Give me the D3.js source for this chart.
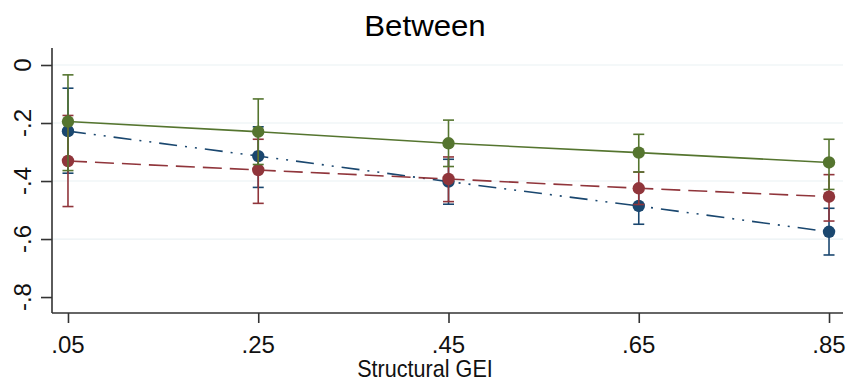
<!DOCTYPE html>
<html><head><meta charset="utf-8">
<script src="https://cdn.jsdelivr.net/npm/d3@7"></script>
<style>
html,body{margin:0;padding:0;background:#fff;}
svg{display:block;font-family:Arial,"Liberation Sans",sans-serif;}
</style></head>
<body>
<svg id="chart" width="850" height="384"></svg>
<script>
// ---- data ----
const xValues = [0.05, 0.25, 0.45, 0.65, 0.85];
const xTickLabels = [".05", ".25", ".45", ".65", ".85"];
const yTicks = [0, -0.2, -0.4, -0.6, -0.8];
const yTickLabels = ["0", "-.2", "-.4", "-.6", "-.8"];
const gridTicks = [0, -0.2, -0.4, -0.6];

const blueEst = [-0.228, -0.314, -0.402, -0.486, -0.575];
const blueLo  = [-0.373, -0.422, -0.480, -0.549, -0.655];
const blueHi  = [-0.080, -0.213, -0.325, -0.423, -0.494];

const redEst = [-0.331, -0.362, -0.393, -0.425, -0.454];
const redLo  = [-0.488, -0.477, -0.471, -0.481, -0.538];
const redHi  = [-0.174, -0.256, -0.317, -0.369, -0.378];

const greenEst = [-0.195, -0.230, -0.270, -0.302, -0.336];
const greenLo  = [-0.364, -0.343, -0.350, -0.369, -0.429];
const greenHi  = [-0.034, -0.117, -0.190, -0.239, -0.256];

const titleText = "Between";
const xTitle = "Structural GEI";

// ---- layout ----
const svg = d3.select("#chart");
const x = d3.scaleLinear().domain([0.0332, 0.8647]).range([52, 843]);
const y = d3.scaleLinear().domain([-0.855, 0.0586]).range([313, 48]);

const series = [
  {est: blueEst, lo: blueLo, hi: blueHi, color: "#1a476f", dash: "18 8 2 8 2 8"},
  {est: redEst, lo: redLo, hi: redHi, color: "#90353b", dash: "19 8"},
  {est: greenEst, lo: greenLo, hi: greenHi, color: "#55752f", dash: null}
];

// grid
svg.append("g").selectAll("line").data(gridTicks).join("line")
  .attr("x1", x.range()[0]).attr("x2", x.range()[1])
  .attr("y1", d => y(d)).attr("y2", d => y(d))
  .attr("stroke", "#eaf1f3").attr("stroke-width", 1.2);

// y axis
const yAxis = d3.axisLeft(y).tickValues(yTicks).tickSize(11).tickFormat("");
const gy = svg.append("g").attr("transform", `translate(${x.range()[0]},0)`).call(yAxis);
gy.select(".domain").attr("d", `M0,${y.range()[1]}V${y.range()[0]}`).attr("stroke", "#333").attr("stroke-width", 1.6);
gy.selectAll(".tick line").attr("stroke", "#333").attr("stroke-width", 1.6);
svg.append("g").selectAll("text").data(yTicks).join("text")
  .attr("transform", (d) => `translate(31,${y(d)}) rotate(-90)`)
  .attr("text-anchor", "middle")
  .attr("font-size", 24).attr("fill", "#111")
  .text((d, i) => yTickLabels[i]);

// x axis
const xAxis = d3.axisBottom(x).tickValues(xValues).tickSize(10).tickFormat("");
const gx = svg.append("g").attr("transform", `translate(0,${y.range()[0]})`).call(xAxis);
gx.select(".domain").attr("d", `M${x.range()[0]},0H${x.range()[1]}`).attr("stroke", "#333").attr("stroke-width", 1.6);
gx.selectAll(".tick line").attr("stroke", "#333").attr("stroke-width", 1.6);
svg.append("g").selectAll("text").data(xValues).join("text")
  .attr("x", d => x(d)).attr("y", 352.5)
  .attr("text-anchor", "middle")
  .attr("font-size", 24).attr("fill", "#111")
  .text((d, i) => xTickLabels[i]);

// titles
svg.append("text").attr("transform", "translate(425,36) scale(1.04,1)").attr("text-anchor", "middle")
  .attr("font-size", 30).attr("fill", "#000").text(titleText);
svg.append("text").attr("transform", "translate(425,377) scale(0.9,1)").attr("text-anchor", "middle")
  .attr("font-size", 24).attr("fill", "#111").text(xTitle);

// series: CIs, lines, markers
const line = d3.line().x((d) => x(d[0])).y((d) => y(d[1]));
series.forEach(s => {
  const g = svg.append("g");
  const pts = xValues.map((v, i) => [v, s.est[i]]);
  g.append("path").attr("d", line(pts)).attr("fill", "none")
    .attr("stroke", s.color).attr("stroke-width", 1.6)
    .attr("stroke-dasharray", s.dash);
  xValues.forEach((v, i) => {
    g.append("line").attr("x1", x(v)).attr("x2", x(v)).attr("y1", y(s.lo[i])).attr("y2", y(s.hi[i]))
      .attr("stroke", s.color).attr("stroke-width", 1.6);
    [s.lo[i], s.hi[i]].forEach(c => {
      g.append("line").attr("x1", x(v) - 5.5).attr("x2", x(v) + 5.5).attr("y1", y(c)).attr("y2", y(c))
        .attr("stroke", s.color).attr("stroke-width", 1.6);
    });
  });
  g.selectAll("circle").data(pts).join("circle")
    .attr("cx", d => x(d[0])).attr("cy", d => y(d[1])).attr("r", 6.2)
    .attr("fill", s.color);
});
</script>
</body></html>
